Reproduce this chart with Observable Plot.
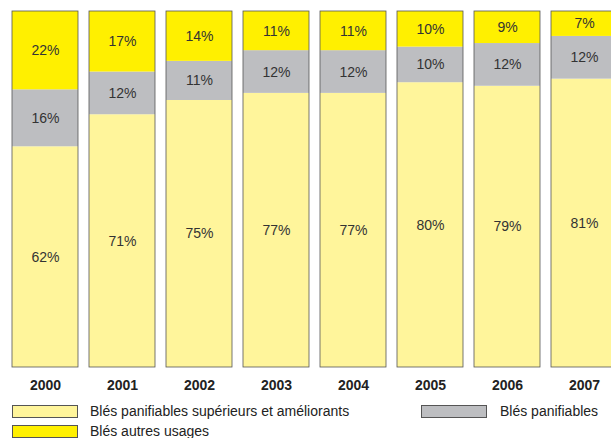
<!DOCTYPE html>
<html>
<head>
<meta charset="utf-8">
<script src="https://cdn.jsdelivr.net/npm/d3@7"></script>
<script src="https://cdn.jsdelivr.net/npm/@observablehq/plot@0.6"></script>
<style>
  html, body { margin: 0; padding: 0; background: #fff; overflow: hidden; }
  body { width: 611px; height: 438px; position: relative; font-family: "Liberation Sans", Arial, sans-serif; }
  #chart { position: absolute; left: 0; top: 0; }
  .leg { position: absolute; font-size: 14px; line-height: 16px; color: #222; white-space: nowrap; }
  .sw { position: absolute; width: 64px; height: 11px; border: 1px solid #555; box-sizing: content-box; }
</style>
</head>
<body>
<div id="chart"></div>
<div id="legend"></div>
<script>
const years = ["2000", "2001", "2002", "2003", "2004", "2005", "2006", "2007"];
const seriesNames = ["Blés panifiables supérieurs et améliorants", "Blés panifiables", "Blés autres usages"];
const superieurs = [62, 71, 75, 77, 77, 80, 79, 81];
const panifiables = [16, 12, 11, 12, 12, 10, 12, 12];
const autres = [22, 17, 14, 11, 11, 10, 9, 7];
const colors = ["#FFF59B", "#BDBEC1", "#FFF000"];

const seriesValues = [superieurs, panifiables, autres];
const table = [];
years.forEach((yr, i) => {
  seriesNames.forEach((s, j) => table.push({year: yr, series: s, value: seriesValues[j][i]}));
});

const chart = Plot.plot({
  width: 611,
  height: 395,
  marginTop: 11,
  marginBottom: 28,
  marginLeft: 0,
  marginRight: 0,
  style: {fontFamily: "'Liberation Sans', Arial, sans-serif", overflow: "visible"},
  x: {type: "band", domain: years, range: [10.5, 619], paddingInner: 0.148, paddingOuter: 0, label: null},
  y: {domain: [0, 100], axis: null},
  color: {domain: seriesNames, range: colors},
  marks: [
    Plot.barY(table, Plot.stackY({x: "year", y: "value", fill: "series", order: seriesNames, inset: 0})),
    Plot.barY(years, {x: d => d, y1: 0, y2: 100, fill: "none", stroke: "#555", strokeWidth: 0.8, inset: 0}),
    Plot.text(table, Plot.stackY({x: "year", y: "value", z: "series", order: seriesNames,
      text: d => d.value + "%", fill: "#333", fontSize: 14})),
    Plot.axisX({tickSize: 0, tickPadding: 13, fontSize: 14, fontWeight: "bold", fill: "#222"})
  ]
});
chart.querySelectorAll("[aria-label='x-axis tick label'] text").forEach(t => t.setAttribute("font-weight", "bold"));
document.getElementById("chart").appendChild(chart);

const legendItems = [
  {name: seriesNames[0], color: colors[0], sx: 12, sy: 405, tx: 90},
  {name: seriesNames[1], color: colors[1], sx: 421, sy: 405, tx: 500},
  {name: seriesNames[2], color: colors[2], sx: 12, sy: 425, tx: 90}
];
const leg = document.getElementById("legend");
legendItems.forEach(it => {
  const sw = document.createElement("div");
  sw.className = "sw";
  sw.style.left = it.sx + "px";
  sw.style.top = it.sy + "px";
  sw.style.background = it.color;
  leg.appendChild(sw);
  const tx = document.createElement("div");
  tx.className = "leg";
  tx.style.left = it.tx + "px";
  tx.style.top = (it.sy - 2) + "px";
  tx.textContent = it.name;
  leg.appendChild(tx);
});
</script>
</body>
</html>
